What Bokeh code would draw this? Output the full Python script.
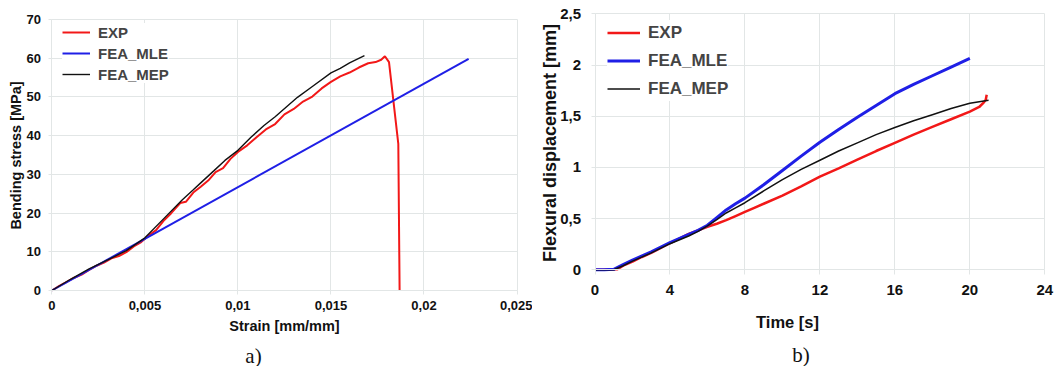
import math
from bokeh.plotting import figure
from bokeh.models import (Range1d, FixedTicker, CustomJSTickFormatter, Legend,
                          LegendItem, Label)
from bokeh.layouts import row
from bokeh.embed import file_html
from bokeh.resources import INLINE

# ---------------- data: a) bending stress vs strain ----------------
exp_strain = [0, 0.0004, 0.0008, 0.0012, 0.0016, 0.002, 0.0024, 0.0028, 0.0032,
              0.0036, 0.004, 0.0044, 0.0048, 0.0052, 0.0056, 0.006, 0.0064,
              0.0069, 0.0072, 0.0076, 0.008, 0.0084, 0.0088, 0.0092, 0.0096,
              0.010, 0.0105, 0.011, 0.0115, 0.012, 0.0125, 0.013, 0.0135,
              0.014, 0.0145, 0.015, 0.0155, 0.016, 0.0165, 0.017, 0.0174,
              0.0177, 0.0179, 0.01812, 0.01862, 0.01869]
exp_stress = [0, 1.2, 2.2, 3.3, 4.1, 5.3, 6.4, 7.2, 8.3, 8.9, 9.9, 11.4, 12.5,
              14.2, 15.6, 18.0, 19.9, 22.6, 22.9, 25.3, 26.8, 28.4, 30.6, 31.6,
              34.0, 35.8, 37.5, 39.6, 41.6, 43.0, 45.5, 46.9, 48.8, 50.1, 52.2,
              53.9, 55.3, 56.3, 57.6, 58.7, 59.0, 59.6, 60.5, 59.0, 37.9, 0]

mle_strain = [0, 0.0224]
mle_stress = [0, 59.8]

mep_strain = [0, 0.001, 0.002, 0.003, 0.004, 0.005, 0.006, 0.007, 0.0076,
              0.008, 0.0087, 0.0093, 0.010, 0.0107, 0.0114, 0.012, 0.0132,
              0.014, 0.015, 0.0155, 0.016, 0.0168]
mep_stress = [0, 2.9, 5.6, 7.9, 10.3, 13.6, 18.5, 23.4, 26.0, 27.8, 30.9, 33.6,
              36.2, 39.6, 42.6, 44.9, 49.9, 52.7, 56.2, 57.4, 58.8, 60.7]

a_xticks = [0, 0.005, 0.01, 0.015, 0.02, 0.025]
a_yticks = [0, 10, 20, 30, 40, 50, 60, 70]

# ---------------- data: b) flexural displacement vs time ----------------
exp_time = [0, 0.4, 0.9, 1.2, 1.5, 2, 2.5, 3, 4, 4.5, 5, 5.5, 6, 6.5, 7, 7.5, 8,
            8.5, 9, 10, 11, 12, 13, 14, 15, 16, 17, 18, 19, 20, 20.5, 20.75,
            20.85, 20.9]
exp_disp = [0, 0, 0.005, 0.005, 0.04, 0.08, 0.125, 0.165, 0.26, 0.305, 0.35,
            0.385, 0.42, 0.45, 0.485, 0.525, 0.565, 0.605, 0.645, 0.725, 0.815,
            0.91, 0.99, 1.075, 1.16, 1.24, 1.32, 1.395, 1.47, 1.545, 1.59,
            1.635, 1.66, 1.71]

mle_time = [0, 0.5, 1.0, 1.5, 2, 3, 4, 5, 5.5, 6, 6.5, 7, 7.5, 8, 9, 10, 11, 12,
            13, 14, 15, 16, 17, 18, 19, 20]
mle_disp = [0, 0, 0.005, 0.05, 0.095, 0.175, 0.265, 0.345, 0.385, 0.435, 0.51,
            0.585, 0.645, 0.70, 0.83, 0.97, 1.11, 1.245, 1.37, 1.49, 1.605,
            1.72, 1.81, 1.895, 1.98, 2.065]

mep_time = [0, 1.0, 1.5, 2, 3, 4, 5, 5.5, 6, 6.5, 7, 7.5, 8, 9, 10, 11, 12, 13,
            14, 15, 16, 17, 18, 19, 20, 21]
mep_disp = [0, 0, 0.04, 0.085, 0.165, 0.255, 0.33, 0.375, 0.43, 0.49, 0.555,
            0.605, 0.655, 0.77, 0.88, 0.98, 1.07, 1.16, 1.24, 1.32, 1.39,
            1.455, 1.515, 1.575, 1.627, 1.655]

b_xticks = [0, 4, 8, 12, 16, 20, 24]
b_yticks = [0, 0.5, 1, 1.5, 2, 2.5]

names = ["EXP", "FEA_MLE", "FEA_MEP"]

RED = "#f21818"
BLUE = "#1f1fe6"
BLACK = "#111111"
GRID = "#e2e6e6"
TXT = "#111111"
SANS = "Liberation Sans"
SERIF = "Liberation Serif"
H = 366

comma_fmt = CustomJSTickFormatter(
    code="return (Math.round(tick*1000)/1000).toString().replace('.', ',');")


def ranges(width, x0_px, x1_px, xt, y0_px, y1_px, yt):
    """Ranges so that the first/last tick land on the given canvas pixels
    (the plot frame fills the whole canvas)."""
    sx = (x1_px - x0_px) / (xt[-1] - xt[0])
    sy = (y0_px - y1_px) / (yt[-1] - yt[0])
    xr = Range1d(xt[0] - x0_px / sx, xt[-1] + (width - x1_px) / sx)
    yr = Range1d(yt[0] - (H - y0_px) / sy, yt[-1] + y1_px / sy)
    return xr, yr


def style(p, xticks, yticks, tick_size, xt_out, xt_stand, yt_out, yt_stand):
    p.xaxis.ticker = FixedTicker(ticks=xticks)
    p.yaxis.ticker = FixedTicker(ticks=yticks)
    p.xaxis.formatter = comma_fmt
    p.yaxis.formatter = comma_fmt
    p.xaxis.fixed_location = yticks[0]
    p.yaxis.fixed_location = xticks[0]
    p.xaxis.bounds = (xticks[0], xticks[-1])
    p.yaxis.bounds = (yticks[0], yticks[-1])
    for ax in (p.xaxis, p.yaxis):
        ax.axis_line_color = GRID
        ax.major_tick_line_color = GRID
        ax.minor_tick_line_color = None
        ax.major_tick_in = 0
        ax.major_label_text_font = SANS
        ax.major_label_text_font_style = "bold"
        ax.major_label_text_font_size = tick_size
        ax.major_label_text_color = TXT
    p.xaxis.major_tick_out = xt_out
    p.xaxis.major_label_standoff = xt_stand
    p.yaxis.major_tick_out = yt_out
    p.yaxis.major_label_standoff = yt_stand
    p.grid.grid_line_color = GRID
    p.grid.grid_line_width = 1
    try:
        p.xgrid.cross_bounds = (yticks[0], yticks[-1])
        p.ygrid.cross_bounds = (xticks[0], xticks[-1])
    except Exception:
        p.grid.visible = False
        p.segment(x0=xticks, y0=[yticks[0]] * len(xticks), x1=xticks,
                  y1=[yticks[-1]] * len(xticks), line_color=GRID,
                  line_width=1, level="underlay")
        p.segment(x0=[xticks[0]] * len(yticks), y0=yticks,
                  x1=[xticks[-1]] * len(yticks), y1=yticks, line_color=GRID,
                  line_width=1, level="underlay")
    p.outline_line_color = None
    p.background_fill_color = "white"
    p.border_fill_color = "white"


def text(p, s, x, y, size, font=SANS, style_="bold", angle=0.0):
    # x, y: canvas pixels from the top-left corner
    p.add_layout(Label(x=x, y=H - y, x_units="screen", y_units="screen",
                       text=s, text_font=font, text_font_style=style_,
                       text_font_size=size, text_color=TXT, angle=angle,
                       text_align="center", text_baseline="middle"))


def legend(p, items, loc, gw, gh, size):
    p.add_layout(Legend(items=items, location=loc, padding=4, margin=0,
                        spacing=3, glyph_width=gw, glyph_height=gh,
                        label_height=gh, label_standoff=8,
                        label_text_font=SANS, label_text_font_style="bold",
                        label_text_font_size=size, border_line_color=None,
                        background_fill_color="white",
                        background_fill_alpha=1.0))


# ---------------- figure a ----------------
WA = 532
xra, yra = ranges(WA, 51.4, 516.5, a_xticks, 290, 19, a_yticks)
pa = figure(width=WA, height=H, output_backend="svg", toolbar_location=None,
            x_range=xra, y_range=yra, min_border=0)
style(pa, a_xticks, a_yticks, "13px", 4, 6, 3, 8)

ra1 = pa.line(exp_strain, exp_stress, line_color=RED, line_width=2)
ra2 = pa.line(mle_strain, mle_stress, line_color=BLUE, line_width=2)
ra3 = pa.line(mep_strain, mep_stress, line_color=BLACK, line_width=1.4)

legend(pa, [LegendItem(label=names[0], renderers=[ra1]),
            LegendItem(label=names[1], renderers=[ra2]),
            LegendItem(label=names[2], renderers=[ra3])],
       (62, 283), 28, 18, "15px")

text(pa, "Bending stress [MPa]", 15.2, 155, "14.5px", angle=math.pi / 2)
text(pa, "Strain [mm/mm]", 284, 325, "14.5px")
text(pa, "a)", 253, 355, "21px", font=SERIF, style_="normal")

# ---------------- figure b ----------------
WB = 1057 - WA
xrb, yrb = ranges(WB, 594.5 - WA, 1044.3 - WA, b_xticks, 269.3, 13.3, b_yticks)
pb = figure(width=WB, height=H, output_backend="svg", toolbar_location=None,
            x_range=xrb, y_range=yrb, min_border=0)
style(pb, b_xticks, b_yticks, "15px", 5, 10, 4, 10)

rb1 = pb.line(exp_time, exp_disp, line_color=RED, line_width=2.5)
rb2 = pb.line(mle_time, mle_disp, line_color=BLUE, line_width=3)
rb3 = pb.line(mep_time, mep_disp, line_color=BLACK, line_width=1.5)

legend(pb, [LegendItem(label=names[0], renderers=[rb1]),
            LegendItem(label=names[1], renderers=[rb2]),
            LegendItem(label=names[2], renderers=[rb3])],
       (75, 265), 33, 25, "17px")

text(pb, "Flexural displacement [mm]", 549.5 - WA, 142.5, "18px",
     angle=math.pi / 2)
text(pb, "Time [s]", 787 - WA, 321, "16.5px")
text(pb, "b)", 800.6 - WA, 354, "21px", font=SERIF, style_="normal")

layout = row(pa, pb, spacing=0)
open("out.html", "w").write(file_html(layout, INLINE))
